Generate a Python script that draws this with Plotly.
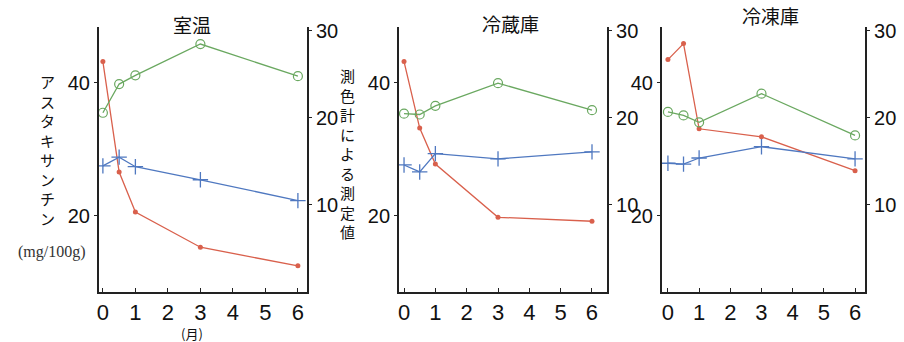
import plotly.graph_objects as go

months = [0, 0.5, 1, 3, 6]
x_ticks = [0, 1, 2, 3, 4, 5, 6]
panel_titles = ["室温", "冷蔵庫", "冷凍庫"]

# Astaxanthin (mg/100g), left axis
asta_room = [43.2, 26.6, 20.6, 15.3, 12.5]
asta_fridge = [43.2, 33.2, 27.8, 19.8, 19.2]
asta_freezer = [43.5, 45.9, 33.1, 31.9, 26.8]

# Colorimeter values, right axis
green_room = [20.6, 23.9, 24.9, 28.5, 24.8]
green_fridge = [20.5, 20.4, 21.4, 24.0, 20.9]
green_freezer = [20.7, 20.3, 19.5, 22.8, 18.0]

blue_room = [14.5, 15.5, 14.4, 12.9, 10.5]
blue_fridge = [14.6, 13.8, 15.9, 15.3, 16.1]
blue_freezer = [14.8, 14.7, 15.4, 16.7, 15.3]

left_ticks = [20, 40]
right_ticks = [10, 20, 30]

RED = "#d9604c"
GREEN = "#6aa860"
BLUE = "#4f78c0"
AX = "#222222"

panels = [
    (asta_room, green_room, blue_room, [0.1095, 0.3396], [-0.12, 6.28]),
    (asta_fridge, green_fridge, blue_fridge, [0.4414, 0.6715], [-0.16, 6.48]),
    (asta_freezer, green_freezer, blue_freezer, [0.7323, 0.9569], [-0.19, 6.32]),
]

fig = go.Figure()
layout = {}
ydom = [0.1462, 0.9211]
xtickfont = dict(family="Liberation Sans, Arial, sans-serif", size=22, color="#111")
ytickfont = dict(family="Liberation Sans, Arial, sans-serif", size=20, color="#111")

for i, (red, green, blue, dom, xr) in enumerate(panels):
    n = i + 1
    xa = "x" if n == 1 else f"x{n}"
    yl = 2 * n - 1
    yr = 2 * n
    yl_name = "y" if yl == 1 else f"y{yl}"
    yr_name = f"y{yr}"

    fig.add_trace(go.Scatter(x=months, y=red, xaxis=xa, yaxis=yl_name, mode="lines+markers",
                             line=dict(color=RED, width=1.3),
                             marker=dict(symbol="circle", size=5, color=RED),
                             showlegend=False))
    fig.add_trace(go.Scatter(x=months, y=green, xaxis=xa, yaxis=yr_name, mode="lines+markers",
                             line=dict(color=GREEN, width=1.3),
                             marker=dict(symbol="circle-open", size=9, color=GREEN, line=dict(width=1.2)),
                             showlegend=False))
    fig.add_trace(go.Scatter(x=months, y=blue, xaxis=xa, yaxis=yr_name, mode="lines+markers",
                             line=dict(color=BLUE, width=1.3),
                             marker=dict(symbol="cross-thin-open", size=11, color=BLUE, line=dict(width=1.3, color=BLUE)),
                             showlegend=False))

    xkey = "xaxis" if n == 1 else f"xaxis{n}"
    layout[xkey] = dict(domain=dom, range=xr, anchor=yl_name, tickvals=x_ticks,
                        ticks="inside", ticklen=4, tickcolor=AX, showline=True, linecolor=AX,
                        linewidth=2, showgrid=False, zeroline=False, tickfont=xtickfont,
                        automargin=False, fixedrange=True)
    ylkey = "yaxis" if yl == 1 else f"yaxis{yl}"
    layout[ylkey] = dict(domain=ydom, range=[8.57, 48.4], anchor=xa, tickvals=left_ticks,
                         ticks="outside", ticklen=3, tickcolor=AX, showline=True, linecolor=AX,
                         linewidth=2, showgrid=False, zeroline=False, tickfont=ytickfont,
                         automargin=False)
    layout[f"yaxis{yr}"] = dict(domain=ydom, range=[0, 30.46], anchor=xa, overlaying=yl_name,
                                side="right", tickvals=right_ticks, ticks="outside", ticklen=3,
                                tickcolor=AX, showline=True, linecolor=AX, linewidth=2,
                                showgrid=False, zeroline=False, tickfont=ytickfont,
                                automargin=False)

title_font = dict(family="Noto Sans CJK JP", size=19, color="#111")
label_font = dict(family="Noto Sans CJK JP", size=15, color="#111")
annotations = [
    dict(text=panel_titles[0], x=192, y=24, font=title_font),
    dict(text=panel_titles[1], x=510, y=23, font=title_font),
    dict(text=panel_titles[2], x=770, y=15, font=title_font),
    dict(text="<br>".join("アスタキサンチン"), x=47, y=150, font=label_font),
    dict(text="(mg/100g)", x=52, y=252,
         font=dict(family="Liberation Serif, serif", size=16, color="#333")),
    dict(text="<br>".join("測色計による測定値"), x=347, y=153, font=label_font),
    dict(text="(月)", x=192, y=333, font=dict(family="Noto Sans CJK JP", size=13, color="#111")),
]
for a in annotations:
    a.update(xref="paper", yref="paper", showarrow=False, xanchor="center", yanchor="middle")
    a["x"] = a["x"] / 904
    a["y"] = 1 - a["y"] / 342

fig.update_layout(**layout)
fig.update_layout(width=904, height=342, margin=dict(l=0, r=0, t=0, b=0, autoexpand=False),
                  paper_bgcolor="white", plot_bgcolor="white", annotations=annotations)

fig.write_html("out.html", config={"displayModeBar": False},
               post_script="document.body.style.margin='0';document.body.style.overflow='hidden';")
